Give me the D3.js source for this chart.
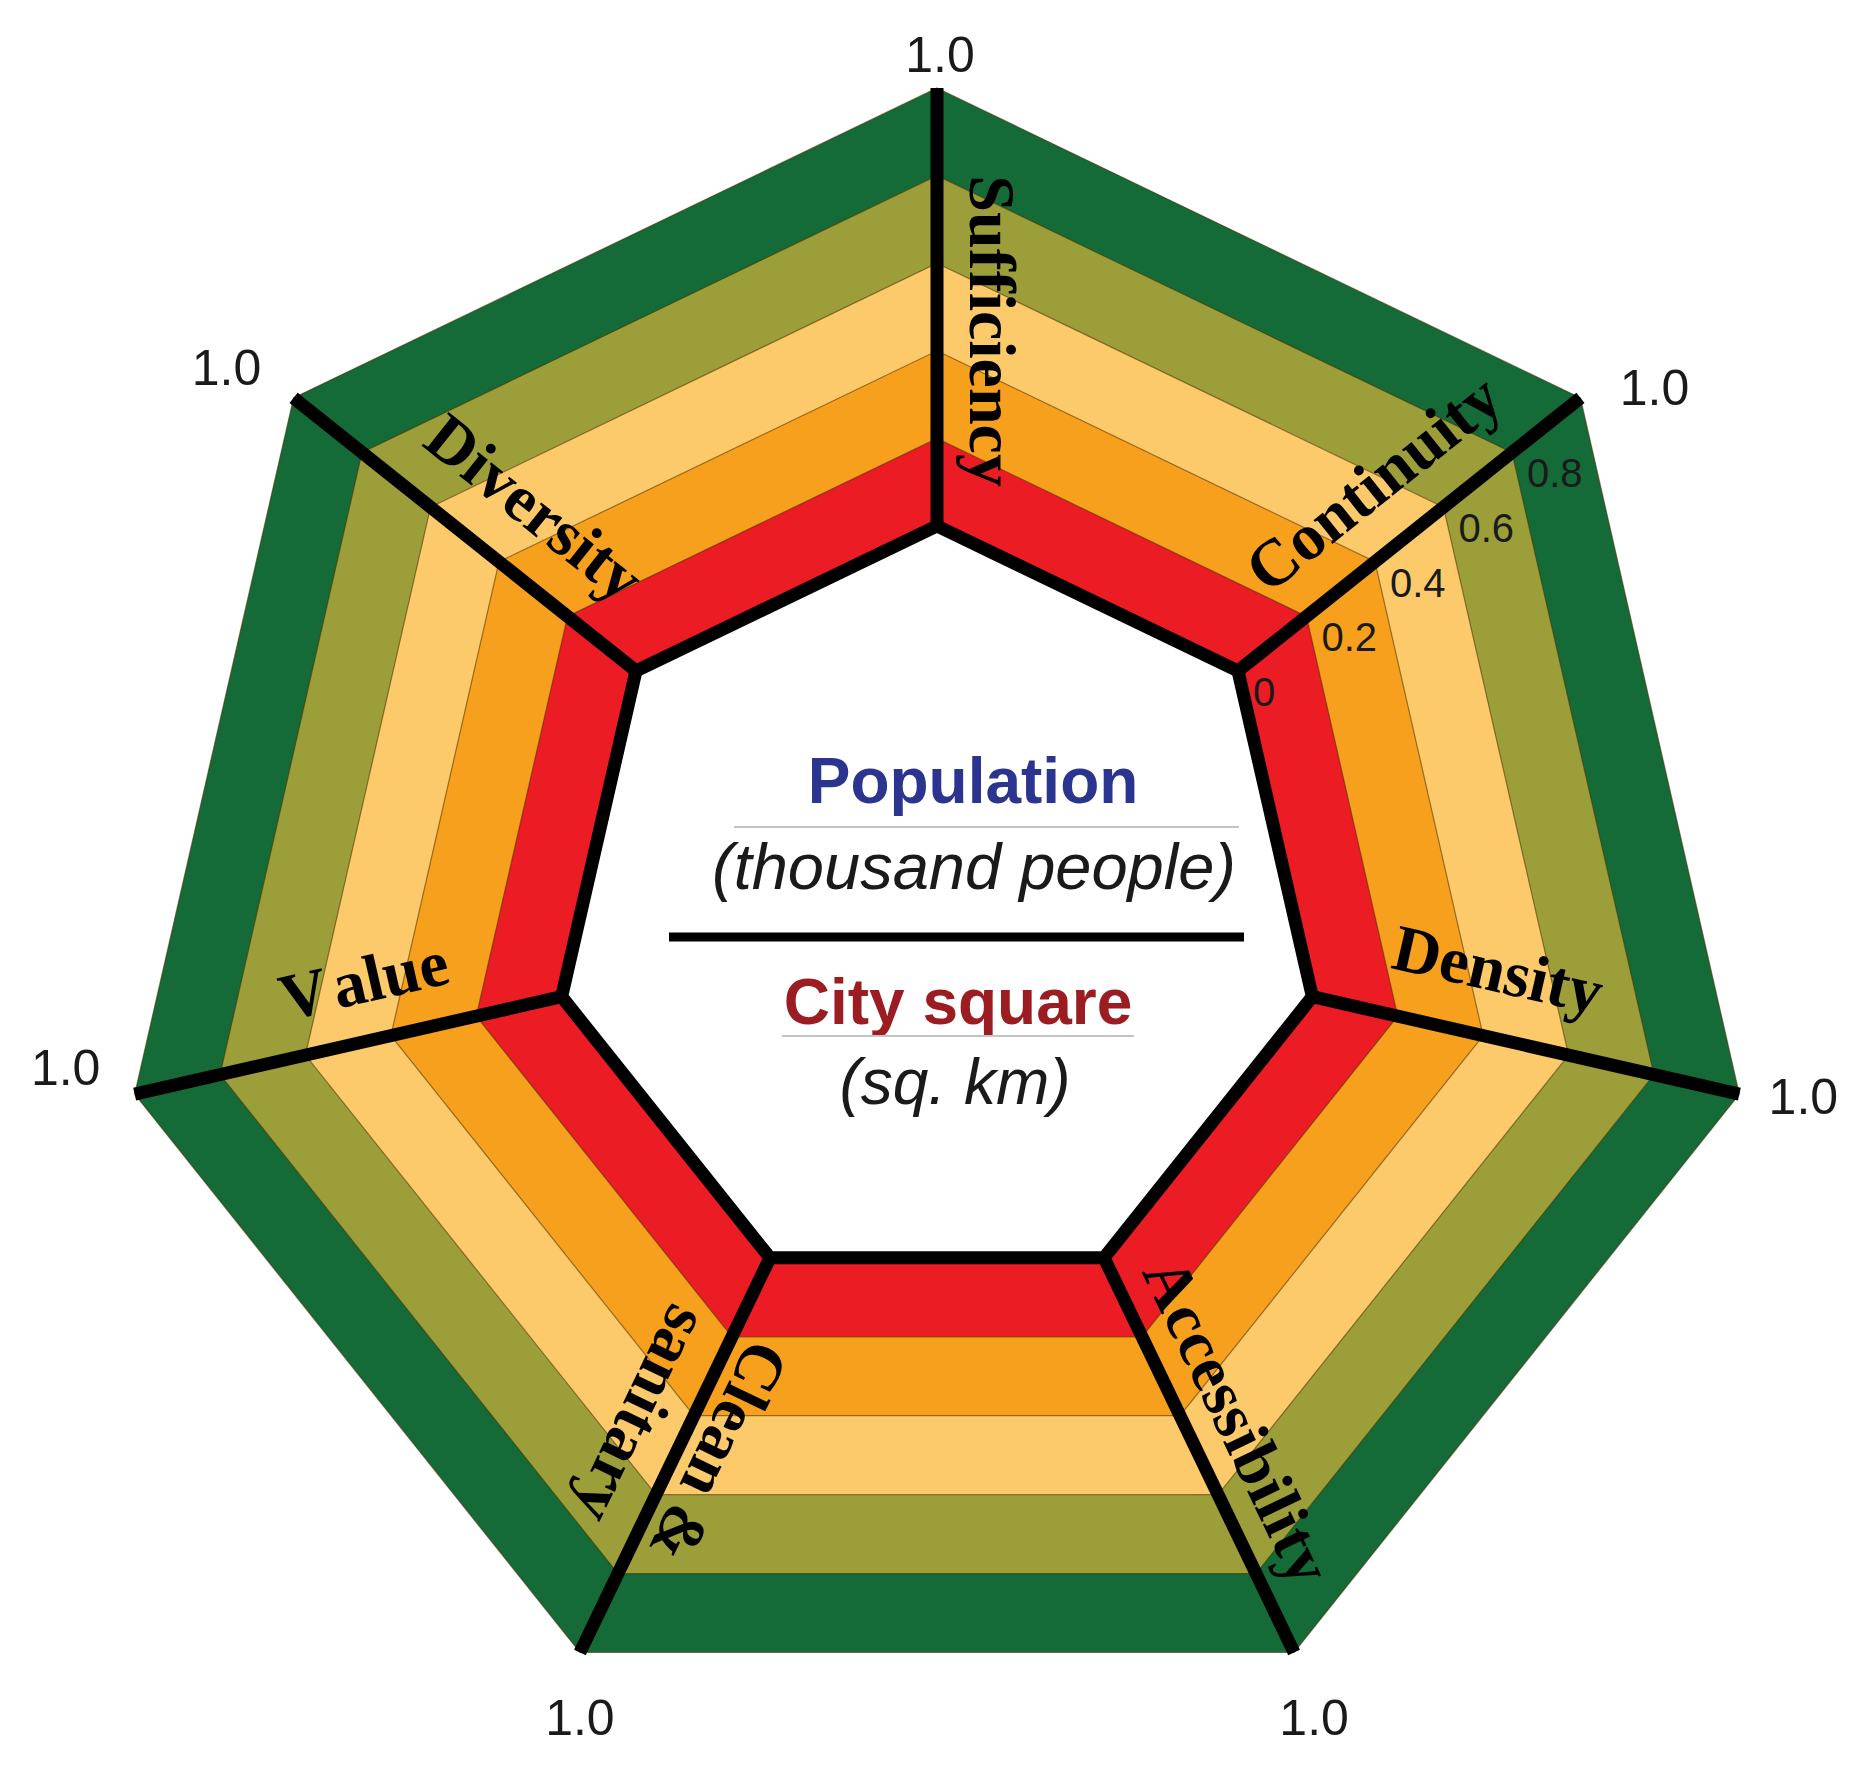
<!DOCTYPE html>
<html><head><meta charset="utf-8">
<script src="https://cdn.jsdelivr.net/npm/d3@7"></script>
<style>html,body{margin:0;padding:0;background:#fff;} svg{display:block;}</style>
</head><body>
<svg id="chart" width="1872" height="1779"></svg>
<script>
// ---------------- data ----------------
const axisNames = ["Sufficiency", "Continuity", "Density", "Accessibility", "Clean & sanitary", "Value", "Diversity"];
const axisLabelLines = [["Sufficiency"], ["Continuity"], ["Density"], ["Accessibility"], ["Clean &", "sanitary"], ["Value"], ["Diversity"]];
const bandLevels = [0, 0.2, 0.4, 0.6, 0.8, 1.0];
const tickValues = [0, 0.2, 0.4, 0.6, 0.8];
const tickLabels = ["0", "0.2", "0.4", "0.6", "0.8"];
const tickAxis = "Continuity";
const maxValue = 1.0;
const maxLabel = "1.0";
const centerTop = ["Population", "(thousand people)"];
const centerBottom = ["City square", "(sq. km)"];

// ---------------- styles / layout ----------------
const bandColors = ["#ec1c24", "#f7a01e", "#fdca6b", "#9c9e3a", "#146b37"];
const W = 1872, H = 1779, cx = 937, cy = 911;
const labelAlong = [0.445, 0.509, 0.400, 0.468, 0.45, 0.432, 0.413];
const labelPerp = [[55], [63], [68], [50], [39, -47], [61], [65]];
const labelFlip = [true, false, false, false, false, true, true];
const maxLabelOffset = [[3, -33], [74, -10], [64, 3], [20, 66], [0, 66], [-69, -26], [-67, -30]];

const svg = d3.select("#chart");
svg.append("rect").attr("width", W).attr("height", H).attr("fill", "#fff");

const n = axisNames.length;
const angle = d3.scaleLinear().domain([0, n]).range([-Math.PI / 2, 1.5 * Math.PI]);
const r = d3.scaleLinear().domain([0, maxValue]).range([385, 823]);
const pt = (k, v) => [cx + r(v) * Math.cos(angle(k)), cy + r(v) * Math.sin(angle(k))];
const ring = v => axisNames.map((a, k) => pt(k, v));
const closed = d3.line().curve(d3.curveLinearClosed);

// bands, largest first
const bands = svg.append("g");
for (let i = bandColors.length - 1; i >= 0; i--) {
  bands.append("path")
    .attr("d", closed(ring(bandLevels[i + 1])))
    .attr("fill", bandColors[i])
    .attr("stroke", "rgba(70,45,0,0.55)")
    .attr("stroke-width", 1.2);
}
// inner white heptagon
svg.append("path")
  .attr("d", closed(ring(bandLevels[0])))
  .attr("fill", "#fff")
  .attr("stroke", "#000")
  .attr("stroke-width", 13)
  .attr("stroke-linejoin", "miter");

// axes
svg.append("g").selectAll("line").data(axisNames).join("line")
  .attr("x1", (d, k) => pt(k, 0)[0]).attr("y1", (d, k) => pt(k, 0)[1])
  .attr("x2", (d, k) => pt(k, maxValue)[0]).attr("y2", (d, k) => pt(k, maxValue)[1])
  .attr("stroke", "#000").attr("stroke-width", 13);

// axis names
const serif = "'Liberation Serif', 'Times New Roman', serif";
axisLabelLines.forEach((lines, k) => {
  const deg = angle(k) * 180 / Math.PI + (labelFlip[k] ? 180 : 0);
  const rad = deg * Math.PI / 180;
  const up = [Math.sin(rad), -Math.cos(rad)];
  const base = pt(k, labelAlong[k]);
  lines.forEach((line, j) => {
    const p = [base[0] + up[0] * labelPerp[k][j], base[1] + up[1] * labelPerp[k][j]];
    const t = svg.append("text")
      .attr("transform", `translate(${p[0]},${p[1]}) rotate(${deg})`)
      .attr("text-anchor", "middle")
      .attr("dominant-baseline", "central")
      .attr("font-family", serif)
      .attr("font-weight", "bold")
      .attr("font-size", 66)
      .attr("fill", "#000");
    if (line === "Value") {
      t.append("tspan").text("V");
      t.append("tspan").attr("dx", 12).text("alue");
    } else {
      t.text(line);
    }
  });
});

// 1.0 labels at outer vertices
const sans = "'Liberation Sans', Arial, sans-serif";
svg.append("g").selectAll("text").data(axisNames).join("text")
  .attr("x", (d, k) => pt(k, maxValue)[0] + maxLabelOffset[k][0])
  .attr("y", (d, k) => pt(k, maxValue)[1] + maxLabelOffset[k][1])
  .attr("text-anchor", "middle")
  .attr("dominant-baseline", "central")
  .attr("font-family", sans)
  .attr("font-size", 50)
  .attr("fill", "#1a1a1a")
  .text(maxLabel);

// tick labels along Continuity axis
const ti = axisNames.indexOf(tickAxis);
svg.append("g").selectAll("text").data(tickValues).join("text")
  .attr("x", v => pt(ti, v)[0] + 15)
  .attr("y", v => pt(ti, v)[1] + 35)
  .attr("text-anchor", "start")
  .attr("font-family", sans)
  .attr("font-size", 40)
  .attr("fill", "#1a1a1a")
  .text((v, i) => tickLabels[i]);

// center texts
const c = svg.append("g").attr("font-family", sans).attr("text-anchor", "middle");
c.append("text").attr("x", cx + 36).attr("y", cy - 108)
  .attr("font-size", 64).attr("font-weight", "bold").attr("fill", "#2b3590").text(centerTop[0]);
c.append("line").attr("x1", cx - 203).attr("x2", cx + 302).attr("y1", cy - 84).attr("y2", cy - 84)
  .attr("stroke", "#c4c4c4").attr("stroke-width", 2);
c.append("text").attr("x", cx + 37).attr("y", cy - 22)
  .attr("font-size", 65).attr("font-style", "italic").attr("fill", "#1a1a1a").text(centerTop[1]);
c.append("line").attr("x1", cx - 268).attr("x2", cx + 307).attr("y1", cy + 26).attr("y2", cy + 26)
  .attr("stroke", "#000").attr("stroke-width", 9);
c.append("text").attr("x", cx + 21).attr("y", cy + 113)
  .attr("font-size", 64).attr("font-weight", "bold").attr("fill", "#9b1d22").text(centerBottom[0]);
c.append("line").attr("x1", cx - 155).attr("x2", cx + 197).attr("y1", cy + 125).attr("y2", cy + 125)
  .attr("stroke", "#c4c4c4").attr("stroke-width", 2);
c.append("text").attr("x", cx + 18).attr("y", cy + 193)
  .attr("font-size", 64).attr("font-style", "italic").attr("fill", "#1a1a1a").text(centerBottom[1]);
</script>
</body></html>
